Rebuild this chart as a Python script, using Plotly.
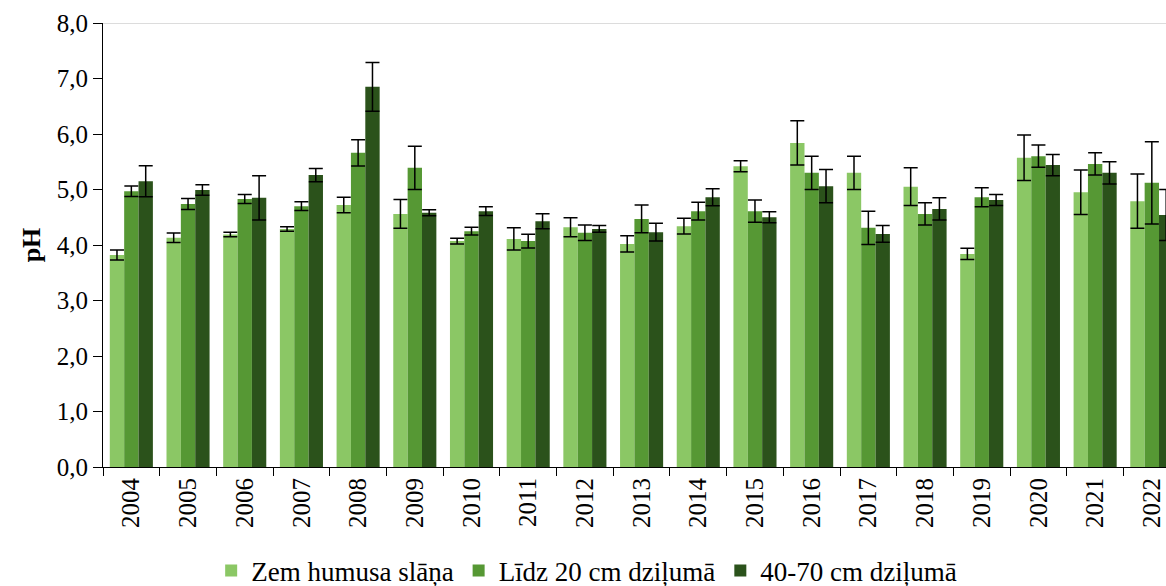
import plotly.graph_objects as go

years = ["2004", "2005", "2006", "2007", "2008", "2009", "2010", "2011", "2012", "2013",
         "2014", "2015", "2016", "2017", "2018", "2019", "2020", "2021", "2022"]

series_names = ["Zem humusa slāņa", "Līdz 20 cm dziļumā", "40-70 cm dziļumā"]

zem_humusa = [3.82, 4.13, 4.19, 4.29, 4.72, 4.56, 4.07, 4.11, 4.32, 4.02,
              4.34, 5.42, 5.84, 5.30, 5.05, 3.84, 5.57, 4.95, 4.79]
zem_humusa_err = [0.09, 0.085, 0.04, 0.04, 0.14, 0.26, 0.05, 0.20, 0.17, 0.145,
                  0.14, 0.10, 0.40, 0.30, 0.34, 0.10, 0.41, 0.40, 0.49]

lidz_20 = [4.97, 4.74, 4.83, 4.70, 5.66, 5.39, 4.25, 4.07, 4.22, 4.47,
           4.61, 4.61, 5.30, 4.31, 4.56, 4.86, 5.60, 5.46, 5.12]
lidz_20_err = [0.095, 0.10, 0.08, 0.08, 0.235, 0.39, 0.07, 0.125, 0.14, 0.25,
               0.16, 0.20, 0.30, 0.30, 0.20, 0.17, 0.20, 0.20, 0.74]

dz_40_70 = [5.15, 4.99, 4.85, 5.26, 6.85, 4.58, 4.61, 4.43, 4.29, 4.23,
            4.86, 4.50, 5.06, 4.20, 4.65, 4.81, 5.44, 5.30, 4.54]
dz_40_70_err = [0.28, 0.095, 0.40, 0.12, 0.44, 0.055, 0.08, 0.135, 0.06, 0.16,
                0.155, 0.10, 0.30, 0.15, 0.20, 0.10, 0.19, 0.20, 0.46]

colors = ["#8BC765", "#569834", "#2B521B"]
font_family = "Liberation Serif, Times New Roman, serif"

fig = go.Figure()
for name, vals, errs, col in zip(series_names,
                                 [zem_humusa, lidz_20, dz_40_70],
                                 [zem_humusa_err, lidz_20_err, dz_40_70_err],
                                 colors):
    fig.add_trace(go.Bar(
        x=years, y=vals, name=name,
        marker=dict(color=col, line=dict(width=0)),
        error_y=dict(type="data", array=errs, visible=True,
                     color="#000000", thickness=1.5, width=7),
    ))

fig.add_hline(y=8, line=dict(color="#d0d0d0", width=1.5), layer="below")

fig.update_layout(
    width=1166, height=586,
    margin=dict(l=103, r=0, t=23, b=119, autoexpand=False),
    paper_bgcolor="white", plot_bgcolor="white",
    barmode="group", bargap=0.24, bargroupgap=0,
    separators=", ",
    font=dict(family=font_family, size=25, color="#000000"),
    showlegend=True,
    legend=dict(orientation="h", x=0.455, xanchor="center", y=-0.234, yanchor="middle",
                font=dict(family=font_family, size=27, color="#000000"),
                itemwidth=30, tracegroupgap=0, bgcolor="rgba(0,0,0,0)"),
    xaxis=dict(type="category", range=[-0.5, 18.25], automargin=False,
               showline=True, linecolor="#000000", linewidth=1,
               ticks="outside", tickson="boundaries", ticklen=8, tickcolor="#000000",
               tickangle=-90, showgrid=False,
               tickfont=dict(family=font_family, size=25, color="#000000")),
    yaxis=dict(range=[0, 8], dtick=1, tickformat=".1f", automargin=False,
               showline=True, linecolor="#000000", linewidth=1,
               ticks="outside", ticklen=9, tickcolor="#000000",
               showgrid=False, zeroline=False,
               tickfont=dict(family=font_family, size=25, color="#000000"),
               title=dict(text="<b>pH</b>", standoff=8,
                          font=dict(family=font_family, size=26, color="#000000"))),
)

fig.write_html(
    "out.html",
    config={"displayModeBar": False},
    post_script="document.body.style.margin='0';document.body.style.overflow='hidden';",
)
